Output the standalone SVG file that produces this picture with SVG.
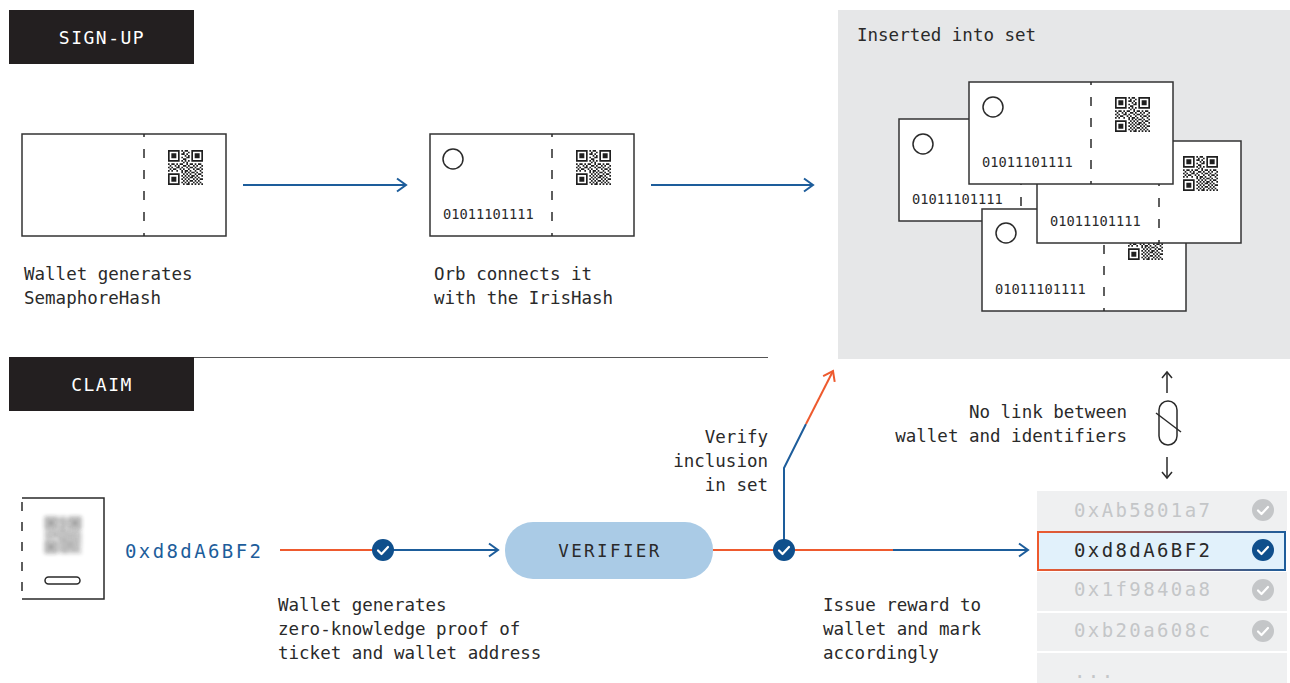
<svg xmlns="http://www.w3.org/2000/svg" xmlns:xlink="http://www.w3.org/1999/xlink" width="1290" height="683" viewBox="0 0 1290 683">
  <style>
    .lbl { font-family: "DejaVu Sans Mono", "Liberation Mono", monospace; font-size: 17.5px; fill: #2a2a2a; }
    .hdr { font-family: "DejaVu Sans Mono", "Liberation Mono", monospace; font-size: 18px; fill: #ffffff; letter-spacing: 1.5px; }
    .bits { font-family: "DejaVu Sans Mono", "Liberation Mono", monospace; font-size: 13.7px; fill: #2a2a2a; }
    .addr { font-family: "DejaVu Sans Mono", "Liberation Mono", monospace; font-size: 19px; letter-spacing: 2.4px; }
    .tk { fill: #ffffff; stroke: #333333; stroke-width: 1.5; }
    .cut { stroke: #2a2a2a; stroke-width: 1.5; stroke-dasharray: 9 12; stroke-dashoffset: 6; }
    .hole { fill: none; stroke: #2a2a2a; stroke-width: 1.5; }
    .blue { fill: none; stroke: #1d5d9b; stroke-width: 2; }
    .red { fill: none; stroke: #ee5a2e; stroke-width: 2; }
    .ink { fill: none; stroke: #2a2a2a; stroke-width: 1.5; }
    .tick { fill: none; stroke: #ffffff; stroke-width: 2.2; stroke-linecap: round; stroke-linejoin: round; }
    .row { fill: #eff0f1; }
  </style>
  <defs>
    <symbol id="qr" viewBox="0 0 21 21">
      <path fill="#1f1f1f" fill-rule="evenodd" d="M0 0h7v7h-7zM1 1h5v5h-5zM14 0h7v7h-7zM15 1h5v5h-5zM0 14h7v7h-7zM1 15h5v5h-5z"/>
      <path fill="#1f1f1f" d="M2 2h3v3h-3zM16 2h3v3h-3zM2 16h3v3h-3z
        M8 0h1v1h-1zM10 0h2v1h-2zM9 1h1v1h-1zM12 1h1v1h-1zM8 2h2v1h-2zM11 2h1v1h-1zM10 3h1v1h-1zM12 3h1v1h-1z
        M8 4h1v1h-1zM11 4h2v1h-2zM9 5h2v1h-2zM8 6h1v1h-1zM10 6h1v1h-1zM12 6h1v1h-1zM9 7h1v1h-1zM11 7h1v1h-1z
        M0 8h1v1h-1zM2 8h2v1h-2zM5 8h1v1h-1zM7 8h2v1h-2zM11 8h1v1h-1zM13 8h2v1h-2zM16 8h1v1h-1zM18 8h2v1h-2z
        M1 9h1v1h-1zM4 9h1v1h-1zM6 9h1v1h-1zM9 9h2v1h-2zM12 9h1v1h-1zM15 9h1v1h-1zM17 9h1v1h-1zM20 9h1v1h-1z
        M0 10h1v1h-1zM2 10h1v1h-1zM5 10h2v1h-2zM8 10h1v1h-1zM11 10h1v1h-1zM13 10h2v1h-2zM16 10h1v1h-1zM19 10h1v1h-1z
        M1 11h1v1h-1zM3 11h2v1h-2zM7 11h1v1h-1zM9 11h1v1h-1zM12 11h1v1h-1zM15 11h1v1h-1zM17 11h2v1h-2zM20 11h1v1h-1z
        M0 12h1v1h-1zM2 12h1v1h-1zM5 12h1v1h-1zM8 12h1v1h-1zM10 12h2v1h-2zM13 12h1v1h-1zM16 12h1v1h-1zM19 12h1v1h-1z
        M8 13h1v1h-1zM10 13h1v1h-1zM12 13h1v1h-1zM14 13h2v1h-2zM17 13h1v1h-1zM20 13h1v1h-1z
        M9 14h1v1h-1zM11 14h1v1h-1zM13 14h1v1h-1zM16 14h1v1h-1zM18 14h2v1h-2z
        M8 15h1v1h-1zM10 15h1v1h-1zM12 15h1v1h-1zM14 15h2v1h-2zM17 15h1v1h-1zM20 15h1v1h-1z
        M9 16h1v1h-1zM11 16h1v1h-1zM13 16h2v1h-2zM16 16h1v1h-1zM18 16h1v1h-1z
        M8 17h1v1h-1zM10 17h1v1h-1zM12 17h1v1h-1zM15 17h1v1h-1zM17 17h1v1h-1zM19 17h2v1h-2z
        M9 18h1v1h-1zM11 18h1v1h-1zM13 18h2v1h-2zM16 18h1v1h-1zM18 18h1v1h-1z
        M8 19h1v1h-1zM10 19h1v1h-1zM12 19h1v1h-1zM15 19h1v1h-1zM17 19h1v1h-1zM19 19h1v1h-1z
        M9 20h1v1h-1zM11 20h2v1h-2zM14 20h1v1h-1zM16 20h1v1h-1zM18 20h1v1h-1zM20 20h1v1h-1z"/>
    </symbol>
    <filter id="soft" x="-30%" y="-30%" width="160%" height="160%">
      <feGaussianBlur stdDeviation="2.2"/>
    </filter>
    <marker id="arrBlue" viewBox="-11 -8 13 16" markerWidth="13" markerHeight="16" refX="0" refY="0" orient="auto" markerUnits="userSpaceOnUse">
      <path d="M-9,-6.5 L0,0 L-9,6.5" fill="none" stroke="#1d5d9b" stroke-width="2"/>
    </marker>
    <marker id="arrRed" viewBox="-11 -8 13 16" markerWidth="13" markerHeight="16" refX="0" refY="0" orient="auto" markerUnits="userSpaceOnUse">
      <path d="M-9,-6.5 L0,0 L-9,6.5" fill="none" stroke="#ee5a2e" stroke-width="2"/>
    </marker>
    <marker id="arrInk" viewBox="-8 -6 10 12" markerWidth="10" markerHeight="12" refX="0" refY="0" orient="auto" markerUnits="userSpaceOnUse">
      <path d="M-6,-5 L0,0 L-6,5" fill="none" stroke="#2a2a2a" stroke-width="1.5"/>
    </marker>
    <linearGradient id="edge" x1="0" y1="0" x2="1" y2="0">
      <stop offset="0" stop-color="#ee5a2e"/>
      <stop offset="1" stop-color="#1d5d9b"/>
    </linearGradient>
  </defs>

  <rect width="1290" height="683" fill="#ffffff"/>

  <!-- section headers -->
  <g id="hdr-signup">
    <rect x="9" y="10" width="185" height="54" fill="#231f20"/>
    <text class="hdr" x="102" y="44" text-anchor="middle">SIGN-UP</text>
  </g>
  <g id="hdr-claim">
    <line x1="194" y1="357.5" x2="768" y2="357.5" stroke="#555555" stroke-width="1"/>
    <rect x="9" y="357" width="185" height="54" fill="#231f20"/>
    <text class="hdr" x="102" y="391" text-anchor="middle">CLAIM</text>
  </g>

  <!-- sign-up: bare ticket -->
  <g id="ticket-semaphore">
    <g transform="translate(22,134)">
      <rect class="tk" width="204" height="102"/>
      <line class="cut" x1="122" y1="0" x2="122" y2="102"/>
      <use href="#qr" x="146" y="16" width="35" height="35"/>
    </g>
    <text class="lbl" x="24" y="280">Wallet generates</text>
    <text class="lbl" x="24" y="304">SemaphoreHash</text>
  </g>

  <!-- sign-up: ticket bound to iris hash -->
  <g id="ticket-iris">
    <g transform="translate(430,134)">
      <rect class="tk" width="204" height="102"/>
      <line class="cut" x1="122" y1="0" x2="122" y2="102"/>
      <circle class="hole" cx="23" cy="25" r="10"/>
      <text class="bits" x="13" y="85">01011101111</text>
      <use href="#qr" x="146" y="16" width="35" height="35"/>
    </g>
    <text class="lbl" x="434" y="280">Orb connects it</text>
    <text class="lbl" x="434" y="304">with the IrisHash</text>
  </g>

  <!-- identity set -->
  <g id="identity-set">
    <rect x="838" y="10" width="452" height="349" fill="#e6e7e8"/>
    <text class="lbl" x="857" y="41">Inserted into set</text>
    <g transform="translate(899,119)">
      <rect class="tk" width="204" height="102"/>
      <line class="cut" x1="122" y1="0" x2="122" y2="102"/>
      <circle class="hole" cx="24" cy="25" r="10"/>
      <text class="bits" x="13" y="85">01011101111</text>
      <use href="#qr" x="146" y="16" width="35" height="35"/>
    </g>
    <g transform="translate(982,209)">
      <rect class="tk" width="204" height="102"/>
      <line class="cut" x1="122" y1="0" x2="122" y2="102"/>
      <circle class="hole" cx="24" cy="24" r="10"/>
      <text class="bits" x="13" y="85">01011101111</text>
      <use href="#qr" x="146" y="16" width="35" height="35"/>
    </g>
    <g transform="translate(1037,141)">
      <rect class="tk" width="204" height="102"/>
      <line class="cut" x1="122" y1="0" x2="122" y2="102"/>
      <circle class="hole" cx="24" cy="25" r="10"/>
      <text class="bits" x="13" y="85">01011101111</text>
      <use href="#qr" x="146" y="15" width="35" height="35"/>
    </g>
    <g transform="translate(969,82)">
      <rect class="tk" width="204" height="102"/>
      <line class="cut" x1="122" y1="0" x2="122" y2="102"/>
      <circle class="hole" cx="24" cy="25" r="10"/>
      <text class="bits" x="13" y="85">01011101111</text>
      <use href="#qr" x="146" y="15" width="35" height="35"/>
    </g>
  </g>

  <!-- claim: wallet -->
  <g id="wallet">
    <path class="ink" d="M22 498H104V599H22"/>
    <line class="ink" x1="22" y1="498" x2="22" y2="599" stroke-dasharray="9 11" stroke-dashoffset="-4"/>
    <use href="#qr" x="45" y="517" width="36" height="36" opacity="0.6" filter="url(#soft)"/>
    <rect class="ink" x="45" y="577" width="35" height="7" rx="3.5"/>
    <text class="addr" x="125" y="558" fill="#1d5d9b">0xd8dA6BF2</text>
  </g>

  <!-- claim: verifier -->
  <g id="verifier">
    <rect x="505" y="522" width="208" height="57" rx="28" fill="#aacbe6"/>
    <text class="lbl" x="610" y="557" text-anchor="middle" font-size="16.5" letter-spacing="2.4">VERIFIER</text>
  </g>

  <!-- claim: reward list -->
  <g id="reward-list">
    <rect class="row" x="1037" y="491" width="250" height="40"/>
    <rect class="row" x="1037" y="572" width="250" height="39"/>
    <rect class="row" x="1037" y="613" width="250" height="38"/>
    <rect class="row" x="1037" y="653" width="250" height="30"/>
    <rect x="1038" y="532" width="247" height="38" fill="#e1f1fb" stroke="url(#edge)" stroke-width="2"/>
    <text class="addr" x="1074" y="517" fill="#c4c6c8">0xAb5801a7</text>
    <text class="addr" x="1074" y="557" fill="#2a2a2a">0xd8dA6BF2</text>
    <text class="addr" x="1074" y="596" fill="#c4c6c8">0x1f9840a8</text>
    <text class="addr" x="1074" y="637" fill="#c4c6c8">0xb20a608c</text>
    <text class="addr" x="1074" y="678" fill="#c4c6c8">...</text>
    <g transform="translate(1263,510)"><circle r="11" fill="#c4c6c8"/><path class="tick" d="M-5,0.5 L-1.5,4 L5,-3"/></g>
    <g transform="translate(1263,550)"><circle r="11" fill="#0f4f8c"/><path class="tick" d="M-5,0.5 L-1.5,4 L5,-3"/></g>
    <g transform="translate(1263,590)"><circle r="11" fill="#c4c6c8"/><path class="tick" d="M-5,0.5 L-1.5,4 L5,-3"/></g>
    <g transform="translate(1263,631)"><circle r="11" fill="#c4c6c8"/><path class="tick" d="M-5,0.5 L-1.5,4 L5,-3"/></g>
  </g>

  <!-- unlinkability note -->
  <g id="no-link">
    <text class="lbl" x="1127" y="418" text-anchor="end">No link between</text>
    <text class="lbl" x="1127" y="442" text-anchor="end">wallet and identifiers</text>
    <line class="ink" x1="1167" y1="393" x2="1167" y2="372" marker-end="url(#arrInk)"/>
    <line class="ink" x1="1167" y1="457" x2="1167" y2="478" marker-end="url(#arrInk)"/>
    <rect class="ink" x="1159" y="401" width="18" height="44" rx="9"/>
    <line class="ink" x1="1156" y1="413" x2="1181" y2="432"/>
  </g>

  <!-- step labels -->
  <g id="step-labels">
    <text class="lbl" x="278" y="611">Wallet generates</text>
    <text class="lbl" x="278" y="635">zero-knowledge proof of</text>
    <text class="lbl" x="278" y="659">ticket and wallet address</text>
    <text class="lbl" x="768" y="443" text-anchor="end">Verify</text>
    <text class="lbl" x="768" y="467" text-anchor="end">inclusion</text>
    <text class="lbl" x="768" y="491" text-anchor="end">in set</text>
    <text class="lbl" x="823" y="611">Issue reward to</text>
    <text class="lbl" x="823" y="635">wallet and mark</text>
    <text class="lbl" x="823" y="659">accordingly</text>
  </g>

  <!-- connectors -->
  <g id="connectors">
    <line class="blue" x1="243" y1="185" x2="406" y2="185" marker-end="url(#arrBlue)"/>
    <line class="blue" x1="651" y1="185" x2="813" y2="185" marker-end="url(#arrBlue)"/>
    <line class="red" x1="280" y1="550" x2="383" y2="550"/>
    <line class="blue" x1="383" y1="550" x2="498" y2="550" marker-end="url(#arrBlue)"/>
    <line class="red" x1="713" y1="550" x2="893" y2="550"/>
    <line class="blue" x1="893" y1="550" x2="1028" y2="550" marker-end="url(#arrBlue)"/>
    <polyline class="blue" points="784,550 784,468 806,424"/>
    <line class="red" x1="806" y1="424" x2="833" y2="371" marker-end="url(#arrRed)"/>
    <g transform="translate(383,550)"><circle r="11" fill="#0f4f8c"/><path class="tick" d="M-5,0.5 L-1.5,4 L5,-3"/></g>
    <g transform="translate(784,550)"><circle r="11" fill="#0f4f8c"/><path class="tick" d="M-5,0.5 L-1.5,4 L5,-3"/></g>
  </g>
</svg>
